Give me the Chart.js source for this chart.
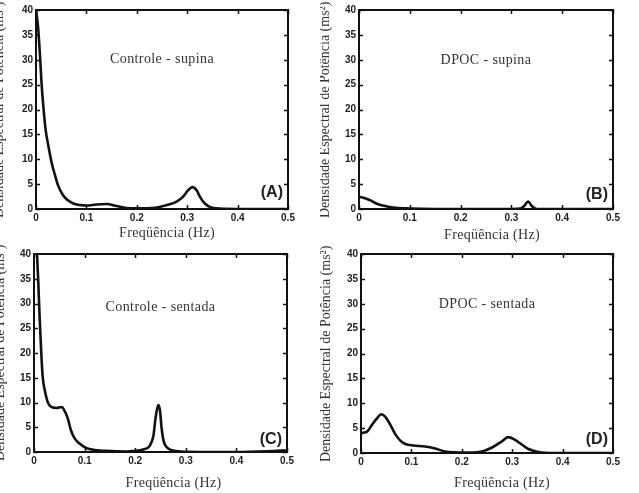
<!DOCTYPE html>
<html>
<head>
<meta charset="utf-8">
<script src="https://cdn.jsdelivr.net/npm/chart.js@4.4.1/dist/chart.umd.min.js"></script>
<style>
  html, body { margin: 0; padding: 0; background: #fff; }
  body { width: 639px; height: 493px; position: relative; overflow: hidden; }
  canvas { position: absolute; }
</style>
</head>
<body>
<canvas id="panelA" width="320" height="245" style="left:0;top:0"></canvas>
<canvas id="panelB" width="319" height="245" style="left:320px;top:0"></canvas>
<canvas id="panelC" width="320" height="248" style="left:0;top:245px"></canvas>
<canvas id="panelD" width="319" height="248" style="left:320px;top:245px"></canvas>
<script>
// values (Hz / ms²)
const freqA = [0, 0.004, 0.008, 0.011, 0.0145, 0.019, 0.0245, 0.031, 0.038, 0.044, 0.054, 0.064, 0.074, 0.087, 0.1, 0.12, 0.14, 0.16, 0.18, 0.2, 0.22, 0.24, 0.26, 0.279, 0.292, 0.302, 0.311, 0.319, 0.325, 0.335, 0.348, 0.378, 0.42, 0.5];
const psdA = [40, 36.7, 30.7, 25.3, 20.7, 16, 12.7, 9.3, 6.7, 4.7, 2.7, 1.7, 1.1, 0.8, 0.7, 0.9, 1.0, 0.6, 0.2, 0.15, 0.15, 0.3, 0.8, 1.5, 2.5, 3.8, 4.4, 3.7, 2.5, 1.1, 0.3, 0.05, 0, 0];

const freqB = [0, 0.007, 0.021, 0.034, 0.047, 0.067, 0.1, 0.15, 0.3, 0.318, 0.325, 0.333, 0.34, 0.35, 0.4, 0.5];
const psdB = [2.5, 2.3, 1.8, 1.1, 0.7, 0.3, 0.1, 0, 0, 0.1, 0.6, 1.5, 0.6, 0, 0, 0];

const freqC = [0, 0.006, 0.0086, 0.011, 0.014, 0.017, 0.022, 0.027, 0.034, 0.044, 0.055, 0.06, 0.067, 0.073, 0.08, 0.09, 0.103, 0.12, 0.153, 0.186, 0.196, 0.216, 0.229, 0.236, 0.24, 0.244, 0.246, 0.249, 0.252, 0.256, 0.262, 0.275, 0.3, 0.4, 0.47, 0.49, 0.5];
const psdC = [60, 40, 34, 27.5, 20.8, 15.4, 12.1, 10.1, 9.1, 8.9, 9.1, 8.4, 6.7, 4.4, 2.8, 1.7, 0.8, 0.4, 0.2, 0.1, 0.2, 0.5, 1.3, 3.3, 6.7, 9, 9.5, 8.4, 5, 2.3, 1, 0.3, 0.05, 0, 0.2, 0.3, 0.3];

const freqD = [0, 0.002, 0.012, 0.022, 0.032, 0.04, 0.048, 0.058, 0.068, 0.078, 0.088, 0.104, 0.127, 0.147, 0.167, 0.187, 0.22, 0.24, 0.26, 0.279, 0.292, 0.305, 0.319, 0.332, 0.352, 0.385, 0.5];
const psdD = [3.8, 4.0, 4.3, 5.7, 7, 7.8, 7.3, 5.7, 3.8, 2.5, 1.8, 1.5, 1.3, 0.9, 0.3, 0.13, 0.07, 0.3, 1.1, 2.3, 3.2, 2.7, 1.7, 0.8, 0.2, 0, 0];

const panelTitles = ['Controle - supina', 'DPOC - supina', 'Controle - sentada', 'DPOC - sentada'];
const panelLetters = ['(A)', '(B)', '(C)', '(D)'];
const xTitle = 'Freqüência (Hz)';
const yTitle = 'Densidade Espectral de Potência (ms²)';

const serif = '"Liberation Serif", "Times New Roman", serif';
const sans = '"Liberation Sans", Arial, sans-serif';

// draws the MATLAB style box, inward ticks and the panel texts
const panelDecor = {
    id: 'panelDecor',
    afterDraw(chart, args, opts) {
        const { ctx, chartArea: a, scales } = chart;
        ctx.save();
        ctx.strokeStyle = '#111';
        ctx.lineWidth = 2;
        ctx.strokeRect(a.left, a.top, a.right - a.left, a.bottom - a.top);

        ctx.lineWidth = 1.5;
        ctx.beginPath();
        scales.x.ticks.forEach(t => {
            const px = Math.round(scales.x.getPixelForValue(t.value)) + 0.5;
            ctx.moveTo(px, a.bottom); ctx.lineTo(px, a.bottom - 4);
            ctx.moveTo(px, a.top); ctx.lineTo(px, a.top + 4);
        });
        scales.y.ticks.forEach(t => {
            const py = Math.round(scales.y.getPixelForValue(t.value)) + 0.5;
            ctx.moveTo(a.left, py); ctx.lineTo(a.left + 4, py);
            ctx.moveTo(a.right, py); ctx.lineTo(a.right - 4, py);
        });
        ctx.stroke();

        const cx = (a.left + a.right) / 2;
        ctx.fillStyle = '#333';
        ctx.font = '14px ' + serif;
        ctx.textAlign = 'center';
        ctx.textBaseline = 'middle';
        ctx.letterSpacing = '0.4px';
        ctx.fillText(opts.title, cx, a.top + opts.titleDy);

        ctx.letterSpacing = '0.3px';
        ctx.fillText(xTitle, cx + opts.xTitleDx, a.bottom + opts.xTitleDy);

        ctx.save();
        ctx.translate(a.left - opts.yTitleDx, a.bottom + 9);
        ctx.rotate(-Math.PI / 2);
        ctx.textAlign = 'left';
        ctx.letterSpacing = '0px';
        ctx.fillText(yTitle, 0, 0);
        ctx.restore();

        ctx.letterSpacing = '0px';
        ctx.fillStyle = '#222';
        ctx.font = 'bold 16px ' + sans;
        ctx.textAlign = 'right';
        ctx.fillText(opts.letter, a.right - 5, a.bottom - opts.letterDy);
        ctx.restore();
    }
};

function makePanel(id, freq, psd, idx, box) {
    const points = freq.map((f, i) => ({ x: f, y: psd[i] }));
    return new Chart(document.getElementById(id), {
        type: 'line',
        data: {
            datasets: [{
                data: points,
                borderColor: '#111',
                borderWidth: 2.6,
                pointRadius: 0,
                cubicInterpolationMode: 'monotone',
                fill: false
            }]
        },
        options: {
            responsive: false,
            animation: false,
            layout: { padding: { top: box.top, right: box.right, left: 0, bottom: 0 } },
            plugins: {
                legend: { display: false },
                tooltip: { enabled: false },
                panelDecor: {
                    title: panelTitles[idx],
                    letter: panelLetters[idx],
                    titleDy: box.titleDy,
                    letterDy: box.letterDy,
                    xTitleDx: box.xTitleDx,
                    xTitleDy: box.xTitleDy,
                    yTitleDx: box.yTitleDx
                }
            },
            scales: {
                x: {
                    type: 'linear',
                    min: 0, max: 0.5,
                    afterFit: s => { s.height = box.bottom; },
                    grid: { display: false, drawTicks: false },
                    border: { display: false },
                    ticks: { stepSize: 0.1, padding: 3, color: '#222', maxRotation: 0,
                             font: { family: sans, size: 10, weight: 'bold' } }
                },
                y: {
                    min: 0, max: 40,
                    afterFit: s => { s.width = box.left; },
                    grid: { display: false, drawTicks: false },
                    border: { display: false },
                    ticks: { stepSize: 5, padding: 3, color: '#222',
                             font: { family: sans, size: 10, weight: 'bold' } }
                }
            }
        },
        plugins: [panelDecor]
    });
}

makePanel('panelA', freqA, psdA, 0, { left: 36, top: 10, right: 32, bottom: 36, titleDy: 49, letterDy: 16, xTitleDx: 5, xTitleDy: 24, yTitleDx: 37 });
makePanel('panelB', freqB, psdB, 1, { left: 39, top: 10, right: 26, bottom: 36, titleDy: 50, letterDy: 14, xTitleDx: 6, xTitleDy: 26, yTitleDx: 34 });
makePanel('panelC', freqC, psdC, 2, { left: 34, top: 8, right: 33, bottom: 41, titleDy: 53, letterDy: 12, xTitleDx: 13, xTitleDy: 31, yTitleDx: 34 });
makePanel('panelD', freqD, psdD, 3, { left: 41, top: 8, right: 26, bottom: 40, titleDy: 50, letterDy: 13, xTitleDx: 15, xTitleDy: 30, yTitleDx: 35 });
</script>
</body>
</html>
